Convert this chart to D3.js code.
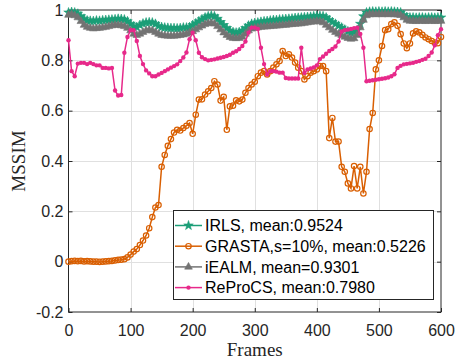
<!DOCTYPE html>
<html>
<head>
<meta charset="utf-8">
<script src="https://cdn.jsdelivr.net/npm/d3@7"></script>
<style>
  body { margin: 0; background: #fff; }
  svg { display: block; font-family: "Liberation Sans", Arial, sans-serif; }
</style>
</head>
<body>
<svg id="chart" width="456" height="360"></svg>
<script>
// frames sampled every 5 (0..600)
var frames = d3.range(0, 601, 5);

var irls = [
  0.99,0.992,0.99,0.985,0.975,0.965,0.958,0.957,0.956,0.958,
  0.957,0.959,0.96,0.961,0.962,0.963,0.965,0.964,0.962,0.955,
  0.945,0.935,0.932,0.94,0.946,0.95,0.951,0.95,0.945,0.936,
  0.932,0.93,0.929,0.928,0.928,0.927,0.928,0.93,0.93,0.932,
  0.94,0.947,0.955,0.963,0.97,0.975,0.978,0.975,0.965,0.952,
  0.94,0.928,0.918,0.912,0.91,0.912,0.918,0.928,0.938,0.945,
  0.948,0.95,0.953,0.955,0.956,0.958,0.96,0.96,0.962,0.963,
  0.964,0.965,0.966,0.968,0.969,0.97,0.971,0.972,0.973,0.975,
  0.976,0.976,0.975,0.97,0.96,0.952,0.945,0.937,0.93,0.922,
  0.915,0.91,0.912,0.92,0.945,0.975,0.99,0.993,0.994,0.993,
  0.994,0.993,0.994,0.993,0.994,0.993,0.992,0.99,0.98,0.972,
  0.97,0.97,0.969,0.97,0.97,0.969,0.97,0.97,0.969,0.97,
  0.97
];

var grasta = [
  0.0,0.002,0.003,0.002,0.003,0.001,0.002,0.001,0.0,0.0,
  -0.001,0.0,0.001,0.002,0.003,0.005,0.007,0.008,0.01,0.017,
  0.028,0.04,0.05,0.066,0.084,0.104,0.133,0.177,0.215,0.225,
  0.377,0.424,0.46,0.487,0.513,0.524,0.521,0.531,0.54,0.551,
  0.508,0.584,0.644,0.645,0.664,0.677,0.69,0.717,0.704,0.64,
  0.655,0.524,0.617,0.62,0.641,0.637,0.644,0.671,0.69,0.704,
  0.715,0.737,0.751,0.757,0.744,0.757,0.771,0.784,0.797,0.837,
  0.817,0.824,0.811,0.791,0.771,0.757,0.724,0.737,0.751,0.757,
  0.764,0.777,0.777,0.757,0.491,0.571,0.477,0.477,0.377,0.357,
  0.311,0.291,0.38,0.291,0.377,0.271,0.357,0.527,0.591,0.764,
  0.8,0.857,0.92,0.924,0.944,0.951,0.937,0.904,0.867,0.848,
  0.867,0.907,0.915,0.911,0.901,0.891,0.884,0.877,0.871,0.868,
  0.893
];

var iealm = [
  0.98,0.982,0.978,0.97,0.955,0.94,0.932,0.928,0.926,0.927,
  0.928,0.93,0.932,0.935,0.938,0.94,0.94,0.938,0.935,0.928,
  0.918,0.905,0.9,0.905,0.912,0.918,0.92,0.918,0.912,0.905,
  0.9,0.898,0.897,0.897,0.897,0.898,0.9,0.902,0.905,0.91,
  0.915,0.922,0.93,0.937,0.943,0.947,0.948,0.945,0.935,0.922,
  0.91,0.9,0.892,0.888,0.887,0.888,0.893,0.905,0.918,0.925,
  0.928,0.93,0.932,0.933,0.934,0.935,0.936,0.937,0.938,0.94,
  0.94,0.942,0.943,0.944,0.945,0.946,0.948,0.95,0.952,0.953,
  0.955,0.954,0.95,0.94,0.93,0.92,0.912,0.905,0.9,0.893,
  0.888,0.885,0.887,0.9,0.93,0.96,0.978,0.982,0.983,0.982,
  0.983,0.982,0.983,0.982,0.983,0.982,0.981,0.979,0.97,0.96,
  0.956,0.956,0.955,0.956,0.956,0.955,0.956,0.956,0.955,0.956,
  0.956
];

var reprocs = [
  0.88,0.757,0.737,0.787,0.79,0.79,0.785,0.79,0.785,0.78,
  0.78,0.77,0.77,0.768,0.77,0.68,0.66,0.662,0.83,0.893,
  0.92,0.92,0.877,0.817,0.785,0.76,0.748,0.737,0.737,0.744,
  0.75,0.757,0.764,0.771,0.777,0.784,0.797,0.811,0.831,0.884,
  0.91,0.88,0.83,0.812,0.805,0.8,0.802,0.804,0.807,0.81,
  0.813,0.817,0.822,0.83,0.836,0.845,0.857,0.875,0.91,0.93,
  0.93,0.925,0.85,0.785,0.744,0.757,0.757,0.755,0.751,0.751,
  0.73,0.728,0.728,0.728,0.728,0.85,0.75,0.764,0.768,0.772,
  0.78,0.805,0.815,0.826,0.837,0.845,0.855,0.875,0.915,0.92,
  0.922,0.925,0.928,0.93,0.905,0.85,0.717,0.719,0.721,0.723,
  0.725,0.727,0.729,0.732,0.737,0.745,0.77,0.778,0.784,0.786,
  0.788,0.79,0.794,0.797,0.802,0.806,0.817,0.831,0.86,0.9,
  0.924
];

var seriesNames = ["IRLS, mean:0.9524", "GRASTA,s=10%, mean:0.5226", "iEALM, mean=0.9301", "ReProCS, mean:0.7980"];
var xTicks = [0, 100, 200, 300, 400, 500, 600];
var yTicks = [-0.2, 0, 0.2, 0.4, 0.6, 0.8, 1];

var series = [
  { name: seriesNames[0], values: irls,    color: "#1b9e77", marker: "star" },
  { name: seriesNames[1], values: grasta,  color: "#d95f02", marker: "circle" },
  { name: seriesNames[2], values: iealm,   color: "#737373", marker: "triangle" },
  { name: seriesNames[3], values: reprocs, color: "#e7298a", marker: "dot" }
];

var svg = d3.select("#chart");
svg.append("rect").attr("width", 456).attr("height", 360).attr("fill", "#fff");

var x = d3.scaleLinear().domain([0, 600]).range([68.5, 441]),
    y = d3.scaleLinear().domain([-0.2, 1]).range([312, 10]);

var axisColor = "#262626";

// grid
var grid = svg.append("g").attr("stroke", "#e0e0e0").attr("stroke-width", 1);
grid.selectAll(".gx").data(xTicks.slice(1, -1)).enter().append("line")
  .attr("x1", function(d) { return Math.round(x(d)) + 0.5; })
  .attr("x2", function(d) { return Math.round(x(d)) + 0.5; })
  .attr("y1", y(1)).attr("y2", y(-0.2));
grid.selectAll(".gy").data(yTicks.slice(1, -1)).enter().append("line")
  .attr("y1", function(d) { return Math.round(y(d)) + 0.5; })
  .attr("y2", function(d) { return Math.round(y(d)) + 0.5; })
  .attr("x1", x(0)).attr("x2", x(600));

function styleAxis(g) {
  g.select(".domain").remove();
  g.selectAll(".tick line").attr("stroke", axisColor);
  g.selectAll(".tick text").attr("fill", axisColor).style("font-size", "16px")
    .style("font-family", "'Liberation Sans', Arial, sans-serif");
}

svg.append("g").attr("transform", "translate(0," + y(-0.2) + ")")
  .call(d3.axisBottom(x).tickValues(xTicks).tickSizeInner(-4).tickSizeOuter(0).tickPadding(13))
  .call(styleAxis);
svg.append("g").attr("transform", "translate(0," + y(1) + ")")
  .call(d3.axisTop(x).tickValues(xTicks).tickSizeInner(-4).tickSizeOuter(0).tickFormat(""))
  .call(styleAxis);
svg.append("g").attr("transform", "translate(" + x(0) + ",0)")
  .call(d3.axisLeft(y).tickValues(yTicks).tickSizeInner(-4).tickSizeOuter(0).tickPadding(5)
    .tickFormat(function(d) { return String(+d.toFixed(1)); }))
  .call(styleAxis);
svg.append("g").attr("transform", "translate(" + x(600) + ",0)")
  .call(d3.axisRight(y).tickValues(yTicks).tickSizeInner(-4).tickSizeOuter(0).tickFormat(""))
  .call(styleAxis);

svg.append("rect")
  .attr("x", x(0)).attr("y", y(1))
  .attr("width", x(600) - x(0)).attr("height", y(-0.2) - y(1))
  .attr("fill", "none").attr("stroke", axisColor).attr("stroke-width", 1);

// axis labels
svg.append("text")
  .attr("x", (x(0) + x(600)) / 2).attr("y", 356)
  .attr("text-anchor", "middle")
  .style("font-family", "'Liberation Serif', 'Times New Roman', serif")
  .style("font-size", "19px").attr("fill", axisColor)
  .text("Frames");
svg.append("text")
  .attr("transform", "translate(25," + y(0.4) + ") rotate(-90)")
  .attr("text-anchor", "middle")
  .style("font-family", "'Liberation Serif', 'Times New Roman', serif")
  .style("font-size", "19px").attr("fill", axisColor)
  .text("MSSIM");

function drawMarker(sel, s) {
  if (s.marker === "star") {
    sel.append("path").attr("d", d3.symbol().type(d3.symbolStar).size(28)())
      .attr("fill", s.color).attr("stroke", s.color).attr("stroke-width", 0.6);
  } else if (s.marker === "triangle") {
    sel.append("path").attr("d", d3.symbol().type(d3.symbolTriangle).size(26)())
      .attr("fill", s.color).attr("stroke", s.color).attr("stroke-width", 0.6);
  } else if (s.marker === "circle") {
    sel.append("circle").attr("r", 2.7)
      .attr("fill", "none").attr("stroke", s.color).attr("stroke-width", 1.2);
  } else {
    sel.append("circle").attr("r", 2.2).attr("fill", s.color);
  }
}

var line = d3.line()
  .x(function(d) { return x(d[0]); })
  .y(function(d) { return y(d[1]); });

series.forEach(function(s) {
  var pts = frames.map(function(f, i) { return [f, s.values[i]]; });
  var g = svg.append("g");
  g.append("path").datum(pts).attr("d", line)
    .attr("fill", "none").attr("stroke", s.color).attr("stroke-width", 1.5);
  g.selectAll(".m").data(pts).enter().append("g")
    .attr("transform", function(d) { return "translate(" + x(d[0]) + "," + y(d[1]) + ")"; })
    .each(function() { drawMarker(d3.select(this), s); });
});

// legend
var legend = svg.append("g");
legend.append("rect")
  .attr("x", 173.5).attr("y", 210.5).attr("width", 260).attr("height", 89)
  .attr("fill", "#fff").attr("stroke", axisColor).attr("stroke-width", 1);
series.forEach(function(s, i) {
  var ly = 225.5 + i * 20.7;
  var item = legend.append("g");
  item.append("line").attr("x1", 175).attr("x2", 202).attr("y1", ly).attr("y2", ly)
    .attr("stroke", s.color).attr("stroke-width", 1.5);
  drawMarker(item.append("g").attr("transform", "translate(188.5," + ly + ")"), s);
  item.append("text").attr("x", 205).attr("y", ly).attr("dy", "0.36em")
    .style("font-size", "16px").attr("fill", "#000")
    .text(s.name);
});
</script>
</body>
</html>
